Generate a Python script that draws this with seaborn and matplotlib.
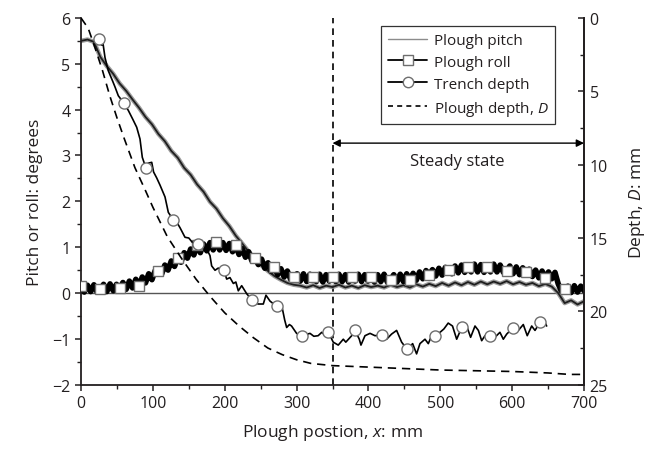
import numpy as np
import pandas as pd
import matplotlib
matplotlib.use("Agg")
import matplotlib.pyplot as plt
from matplotlib.lines import Line2D
from matplotlib.ticker import MultipleLocator
import seaborn as sns

# ---- data -------------------------------------------------------------
# plough pitch (degrees), sampled along the run
pitch_x = np.linspace(0, 700, 79)
plough_pitch = [5.50, 5.53, 5.48, 5.15, 4.95, 4.78, 4.57, 4.41, 4.22, 4.04,
                3.84, 3.68, 3.47, 3.31, 3.10, 2.95, 2.73, 2.58, 2.37, 2.21,
                1.99, 1.84, 1.63, 1.46, 1.25, 1.08, 0.90, 0.75, 0.60, 0.48,
                0.37, 0.29, 0.22, 0.18, 0.16, 0.12, 0.17, 0.11, 0.16, 0.13,
                0.18, 0.12, 0.16, 0.11, 0.17, 0.13, 0.16, 0.12, 0.18, 0.13,
                0.17, 0.12, 0.19, 0.14, 0.20, 0.15, 0.22, 0.16, 0.23, 0.17,
                0.24, 0.18, 0.25, 0.19, 0.25, 0.20, 0.26, 0.19, 0.24, 0.18,
                0.22, 0.15, 0.20, 0.14, 0.00, -0.22, -0.16, -0.25, -0.18]

# plough roll (degrees), finer sampling of the noisy record
roll_x = np.linspace(0, 700, 157)
plough_roll = [0.15, 0.02, 0.17, 0.03, 0.18, 0.02, 0.08, 0.19, 0.03, 0.20,
               0.05, 0.19, 0.10, 0.23, 0.08, 0.26, 0.11, 0.30, 0.15, 0.35,
               0.22, 0.42, 0.29, 0.49, 0.47, 0.41, 0.61, 0.50, 0.70, 0.58,
               0.76, 0.67, 0.88, 0.76, 0.96, 0.83, 1.05, 0.88, 1.07, 0.92,
               1.10, 0.94, 1.12, 0.94, 1.10, 0.93, 1.08, 0.90, 1.04, 0.84,
               0.97, 0.78, 0.90, 0.70, 0.76, 0.62, 0.74, 0.54, 0.66, 0.47,
               0.56, 0.40, 0.53, 0.35, 0.48, 0.30, 0.35, 0.42, 0.26, 0.42,
               0.25, 0.41, 0.36, 0.25, 0.41, 0.24, 0.40, 0.26, 0.36, 0.25,
               0.41, 0.25, 0.40, 0.24, 0.36, 0.26, 0.41, 0.25, 0.40, 0.26,
               0.34, 0.24, 0.40, 0.25, 0.41, 0.24, 0.29, 0.40, 0.24, 0.41,
               0.25, 0.42, 0.28, 0.43, 0.28, 0.46, 0.31, 0.49, 0.40, 0.51,
               0.37, 0.54, 0.39, 0.56, 0.50, 0.42, 0.59, 0.44, 0.61, 0.45,
               0.57, 0.46, 0.63, 0.46, 0.62, 0.45, 0.57, 0.46, 0.63, 0.46,
               0.61, 0.45, 0.49, 0.59, 0.42, 0.57, 0.40, 0.55, 0.45, 0.52,
               0.36, 0.50, 0.33, 0.48, 0.32, 0.46, 0.31, 0.45, 0.20, 0.04,
               0.08, 0.15, 0.01, 0.16, 0.02, 0.15, 0.05]

# trench depth (mm)
trench_x = [25.0, 28.8, 30.5, 33.4, 38.0, 44.0, 47.3, 51.9, 59.8, 65.8,
            72.0, 77.5, 82.1, 85.3, 90.4, 93.5, 98.4, 101.0, 105.3, 110.0,
            116.9, 121.5, 128.4, 133.0, 137.8, 144.7, 150.0, 155.0, 163.3, 169.0,
            174.9, 179.5, 181.8, 186.5, 191.0, 199.0, 202.7, 207.3, 212.0, 215.5,
            218.9, 223.6, 230.6, 237.5, 242.0, 246.7, 253.7, 257.4, 263.0, 272.3,
            279.3, 283.5, 286.2, 290.0, 293.0, 300.0, 307.4, 312.0, 318.7, 324.0,
            330.0, 335.0, 339.5, 344.2, 351.0, 358.0, 365.0, 368.5, 376.7, 381.3,
            387.3, 389.6, 395.2, 402.2, 409.1, 418.4, 425.3, 432.2, 439.2, 446.2,
            454.0, 461.5, 467.0, 471.7, 478.7, 483.3, 488.0, 492.6, 499.6, 505.0,
            511.0, 517.0, 522.8, 529.8, 536.7, 542.2, 548.3, 553.0, 557.6, 562.2,
            569.0, 576.0, 583.0, 587.7, 592.4, 600.6, 608.6, 615.5, 621.0, 627.2,
            631.8, 638.8, 644.0, 648.0]
trench_depth = [1.43, 1.85, 1.70, 2.70, 3.60, 4.30, 4.70, 5.30, 5.82, 6.30,
                6.90, 7.45, 8.25, 9.50, 10.23, 9.90, 9.84, 10.50, 10.90, 11.40,
                12.20, 13.25, 13.77, 13.90, 14.30, 14.95, 15.00, 15.30, 15.40, 15.50,
                15.75, 16.20, 16.90, 17.20, 17.05, 17.20, 17.80, 17.70, 18.10, 18.00,
                18.60, 18.25, 18.80, 19.20, 19.40, 19.50, 19.50, 18.90, 19.30, 19.66,
                19.60, 20.60, 21.10, 20.90, 21.00, 21.50, 21.70, 21.60, 21.50, 21.70,
                21.66, 21.43, 21.60, 21.43, 22.10, 22.30, 21.90, 22.10, 21.66, 21.30,
                21.90, 22.30, 21.66, 21.50, 21.66, 21.60, 21.90, 21.55, 21.30, 22.10,
                22.60, 22.20, 22.90, 22.20, 21.90, 22.20, 21.66, 21.66, 21.43, 21.20,
                20.80, 21.00, 21.90, 21.10, 21.00, 21.77, 21.00, 21.30, 22.00, 21.66,
                21.66, 21.77, 21.43, 21.90, 21.55, 21.15, 21.30, 20.90, 21.66, 21.00,
                21.30, 20.75, 20.60, 21.00]
trench_circle_x = [25.0, 59.8, 90.4, 128.4, 163.3, 199.0, 237.5, 272.3, 307.4,
                   344.2, 381.3, 418.4, 454.0, 492.6, 529.8, 569.0, 600.6, 638.8]

# plough depth D (mm)
plough_depth_x = [0, 10, 15, 20, 30, 40, 50, 60, 75, 90, 100, 120, 140, 160, 180,
                  200, 220, 240, 260, 280, 300, 320, 350, 400, 450, 500, 550,
                  600, 650, 680, 700]
plough_depth = [0.0, 0.7, 1.4, 2.1, 3.6, 5.3, 6.8, 8.2, 10.2, 11.8, 12.9, 14.9,
                16.4, 17.8, 19.0, 20.1, 21.0, 21.8, 22.5, 22.95, 23.3, 23.55,
                23.7, 23.8, 23.9, 24.0, 24.05, 24.1, 24.2, 24.3, 24.3]

steady_start, steady_end = 350, 700
legend_labels = ["Plough pitch", "Plough roll", "Trench depth", "Plough depth, $D$"]

# ---- style ------------------------------------------------------------
sns.set_theme(style="ticks")
ink = "#231f20"
plt.rcParams.update({
    "font.family": ["Open Sans", "DejaVu Sans"],
    "mathtext.fontset": "custom",
    "mathtext.rm": "Open Sans",
    "mathtext.it": "Open Sans:italic",
    "text.color": ink,
    "axes.labelcolor": ink,
    "xtick.color": ink,
    "ytick.color": ink,
    "axes.edgecolor": ink,
    "axes.linewidth": 1.3,
})

fig = plt.figure(figsize=(6.57, 4.52), dpi=100)
ax = fig.add_axes([0.1233, 0.1467, 0.7656, 0.8113])
ax2 = ax.twinx()

pitch_df = pd.DataFrame({"x": pitch_x, "pitch": plough_pitch})
roll_df = pd.DataFrame({"x": roll_x, "roll": plough_roll})
tr = pd.DataFrame({"x": trench_x, "d": trench_depth})
pdp = pd.DataFrame({"x": plough_depth_x, "d": plough_depth})

# zero reference line
ax.axhline(0, color="#555555", lw=1.0, zorder=1)

# plough pitch: fuzzy grey trace with a dark core
sns.lineplot(data=pitch_df, x="x", y="pitch", ax=ax, color="#8a8a8a", lw=3.2,
             errorbar=None, zorder=2, alpha=0.85)
sns.lineplot(data=pitch_df, x="x", y="pitch", ax=ax, color="#1e1e1e", lw=1.3,
             errorbar=None, zorder=2.1)

# plough roll: dense black trace with square markers
sns.lineplot(data=roll_df, x="x", y="roll", ax=ax, color="black", lw=4.0,
             errorbar=None, zorder=3, marker="s", markersize=7,
             markerfacecolor="white", markeredgecolor="#6e6e6e",
             markeredgewidth=1.0, markevery=slice(0, 151, 6))

# trench depth and plough depth on the depth axis
circle_idx = [trench_x.index(v) for v in trench_circle_x]
sns.lineplot(data=tr, x="x", y="d", ax=ax2, color="black", lw=1.2,
             errorbar=None, zorder=4, marker="o", markersize=8,
             markerfacecolor="white", markeredgecolor="#6e6e6e",
             markeredgewidth=1.0, markevery=circle_idx)
sns.lineplot(data=pdp, x="x", y="d", ax=ax2, color="black", lw=1.2,
             errorbar=None, zorder=4, linestyle=(0, (5, 3.5)))

# steady state marker
ax.axvline(steady_start, color="black", lw=1.2, linestyle=(0, (4, 3)), zorder=1.5)
ax.annotate("", xy=(steady_start, 3.27), xytext=(steady_end, 3.27),
            arrowprops=dict(arrowstyle="<|-|>", color="black", lw=1.0,
                            mutation_scale=11, shrinkA=0, shrinkB=0))
ax.text(524, 2.88, "Steady state", ha="center", va="center", fontsize=12)

# ---- axes -------------------------------------------------------------
ax.set_xlim(0, 700)
ax.set_ylim(-2, 6)
ax2.set_ylim(25, 0)
ax.xaxis.set_major_locator(MultipleLocator(100))
ax.xaxis.set_minor_locator(MultipleLocator(50))
ax.yaxis.set_major_locator(MultipleLocator(1))
ax.yaxis.set_minor_locator(MultipleLocator(0.5))
ax2.yaxis.set_major_locator(MultipleLocator(5))
ax2.yaxis.set_minor_locator(MultipleLocator(2.5))

ax.tick_params(which="major", direction="out", length=4.5, width=1.1, labelsize=11.5, pad=3)
ax.tick_params(which="minor", direction="out", length=2.8, width=1.0)
ax2.tick_params(which="major", direction="in", length=4.5, width=1.1, labelsize=11.5, pad=4)
ax2.tick_params(which="minor", direction="in", length=2.8, width=1.0)

ax.set_xlabel("Plough postion, $x$: mm", fontsize=12.5, labelpad=8)
ax.set_ylabel("Pitch or roll: degrees", fontsize=12.5, labelpad=7)
ax2.set_ylabel("Depth, $D$: mm", fontsize=12.5, labelpad=14)

for a in (ax, ax2):
    a.spines["top"].set_visible(False)
ax2.spines["left"].set_visible(False)
ax2.spines["bottom"].set_visible(False)

ax.set_yticklabels(["\u22122" if t == -2 else ("\u22121" if t == -1 else f"{int(t)}")
                    for t in ax.get_yticks()])

# ---- legend -----------------------------------------------------------
handles = [
    Line2D([], [], color="#8c8c8c", lw=1.0),
    Line2D([], [], color="black", lw=1.3, marker="s", markersize=6.5,
           markerfacecolor="white", markeredgecolor="#6e6e6e", markeredgewidth=1.0),
    Line2D([], [], color="black", lw=1.3, marker="o", markersize=7.5,
           markerfacecolor="white", markeredgecolor="#6e6e6e", markeredgewidth=1.0),
    Line2D([], [], color="black", lw=1.2, linestyle=(0, (3, 2.5))),
]
leg = ax.legend(handles, legend_labels, loc="upper left",
                bbox_to_anchor=(0.596, 0.978), frameon=True, fancybox=False,
                edgecolor="black", fontsize=11, handlelength=2.6,
                handletextpad=0.4, borderpad=0.45, labelspacing=0.45,
                borderaxespad=0)
leg.get_frame().set_linewidth(0.9)
leg.set_zorder(10)

fig.savefig("out.png", dpi=100)
